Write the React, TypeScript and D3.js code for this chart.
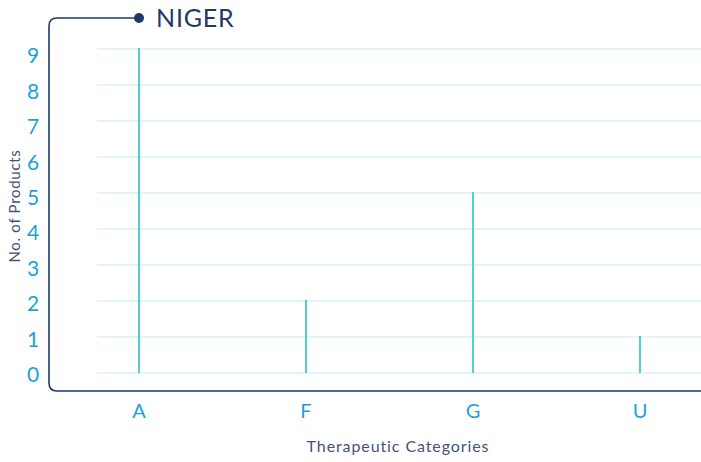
import React, {useEffect, useRef} from "react";
import * as d3 from 'd3';

const WIDTH = 701;
const HEIGHT = 462;
const FONT = "'Lato', 'Open Sans', sans-serif";

const categories = ["A", "F", "G", "U"];
const productCounts = [9, 2, 5, 1];
const yTicks = [0, 1, 2, 3, 4, 5, 6, 7, 8, 9];
const countryName = "NIGER";

const NAVY = "#22386a";
const TICK_BLUE = "#1e9fdf";
const GRID = "#c6e7f4";
const STEM = "#26c3c9";
const LABEL = "#44527a";

const App: React.FC = () => {
    const ref = useRef<SVGSVGElement>(null);

    useEffect(() => {
        const svg = d3.select(ref.current);
        svg.selectAll('*').remove();

        const x = d3.scalePoint<string>()
            .domain(categories)
            .range([139, 640]);
        const y = d3.scaleLinear()
            .domain([0, 9])
            .range([373, 49]);

        // frame with rounded corners
        const r = 8;
        svg.append('path')
            .attr('d', `M139,18 H${49 + r} Q49,18 49,${18 + r} V${391 - r} Q49,391 ${49 + r},391 H${WIDTH}`)
            .attr('fill', 'none')
            .attr('stroke', NAVY)
            .attr('stroke-width', 1.6);
        svg.append('circle')
            .attr('cx', 139).attr('cy', 18).attr('r', 5)
            .attr('fill', NAVY);
        svg.append('text')
            .attr('x', 156).attr('y', 27)
            .attr('font-family', FONT)
            .attr('font-size', 25)
            .attr('letter-spacing', 0.8)
            .attr('fill', NAVY)
            .text(countryName);

        // grid
        svg.append('g')
            .selectAll('line')
            .data(yTicks)
            .enter()
            .append('line')
            .attr('x1', 97).attr('x2', WIDTH)
            .attr('y1', d => y(d)).attr('y2', d => y(d))
            .attr('stroke', GRID)
            .attr('stroke-width', 1.2);

        // y tick labels
        svg.append('g')
            .selectAll('text')
            .data(yTicks)
            .enter()
            .append('text')
            .attr('x', 33)
            .attr('y', d => y(d) + 9 + d * 0.6)
            .attr('text-anchor', 'middle')
            .attr('font-family', FONT)
            .attr('font-size', 21)
            .attr('fill', TICK_BLUE)
            .text(d => String(d));

        // stems
        svg.append('g')
            .selectAll('line')
            .data(categories)
            .enter()
            .append('line')
            .attr('x1', d => x(d)!).attr('x2', d => x(d)!)
            .attr('y1', y(0))
            .attr('y2', (d, i) => y(productCounts[i]) - 1)
            .attr('stroke', STEM)
            .attr('stroke-width', 1.6);

        // x labels
        svg.append('g')
            .selectAll('text')
            .data(categories)
            .enter()
            .append('text')
            .attr('x', d => x(d)!)
            .attr('y', 418)
            .attr('text-anchor', 'middle')
            .attr('font-family', FONT)
            .attr('font-size', 20)
            .attr('fill', TICK_BLUE)
            .text(d => d);

        svg.append('text')
            .attr('x', 398).attr('y', 452)
            .attr('text-anchor', 'middle')
            .attr('font-family', FONT)
            .attr('font-size', 16)
            .attr('letter-spacing', 0.9)
            .attr('fill', LABEL)
            .text('Therapeutic Categories');

        svg.append('text')
            .attr('transform', 'translate(20,206) rotate(-90)')
            .attr('text-anchor', 'middle')
            .attr('font-family', FONT)
            .attr('font-size', 15)
            .attr('letter-spacing', 0.7)
            .attr('fill', LABEL)
            .text('No. of Products');
    }, []);

    return (
        <svg ref={ref} width={WIDTH} height={HEIGHT}
             style={{position: 'absolute', left: 0, top: 0, background: '#fff'}}/>
    );
};

export default App;
